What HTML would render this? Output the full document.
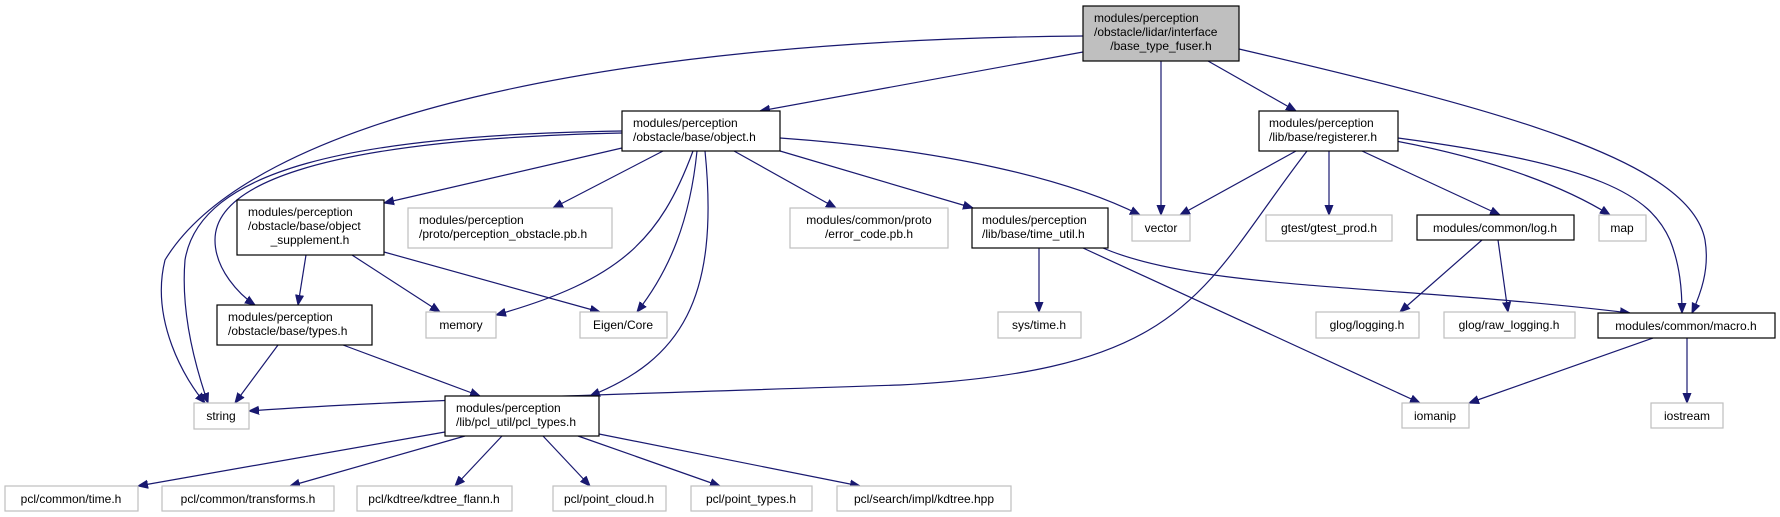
<!DOCTYPE html>
<html><head><meta charset="utf-8"><style>
html,body{margin:0;padding:0;background:#fff}
svg{display:block}
text{font-family:"Liberation Sans",sans-serif;font-size:12px;fill:#000}
.b{fill:#fff;stroke:#000;stroke-width:1.2}
.g{fill:#fff;stroke:#bfbfbf;stroke-width:1.2}
.e{fill:none;stroke:#191970;stroke-width:1.2}
</style></head><body>
<svg width="1780" height="517" viewBox="0 0 1780 517" xmlns="http://www.w3.org/2000/svg">
<defs><marker id="a" viewBox="0 0 10 10" refX="10" refY="5" markerWidth="10" markerHeight="10" markerUnits="userSpaceOnUse" orient="auto"><path d="M0,1 L10,5 L0,9 z" fill="#191970" stroke="#191970"/></marker></defs>
<g marker-end="url(#a)">
<path class="e" d="M1083,36 C600,40 250,120 165,260 C150,320 185,380 205,403"/>
<path class="e" d="M1083,52 L760,111"/>
<path class="e" d="M1161,61 L1161,215"/>
<path class="e" d="M1208,61 L1296,111"/>
<path class="e" d="M1239,49 C1500,110 1690,160 1705,240 C1710,270 1700,295 1692,313"/>
<path class="e" d="M622,131 C350,135 200,170 185,260 C180,320 200,380 208,403"/>
<path class="e" d="M622,133 C300,140 215,190 215,240 C215,270 240,295 255,305"/>
<path class="e" d="M622,148 L384,203"/>
<path class="e" d="M663,151 L553,208"/>
<path class="e" d="M693,151 C660,240 620,280 496,315"/>
<path class="e" d="M697,151 C690,220 670,270 637,312"/>
<path class="e" d="M705,151 C720,300 680,360 590,396"/>
<path class="e" d="M734,151 L836,208"/>
<path class="e" d="M780,151 L973,208"/>
<path class="e" d="M780,138 C950,150 1070,180 1140,215"/>
<path class="e" d="M306,255 L298,305"/>
<path class="e" d="M352,255 L440,312"/>
<path class="e" d="M384,252 L600,312"/>
<path class="e" d="M278,345 L235,403"/>
<path class="e" d="M343,345 L480,396"/>
<path class="e" d="M1296,151 L1180,215"/>
<path class="e" d="M1307,151 C1200,290 1190,370 900,385 C600,395 400,400 249,411"/>
<path class="e" d="M1329,151 L1329,215"/>
<path class="e" d="M1362,151 L1500,215"/>
<path class="e" d="M1390,140 C1500,160 1570,190 1610,215"/>
<path class="e" d="M1398,138 C1600,165 1650,195 1670,240 C1680,265 1682,290 1682,313"/>
<path class="e" d="M1039,248 L1039,312"/>
<path class="e" d="M1083,248 L1420,403"/>
<path class="e" d="M1103,248 C1200,290 1400,285 1630,313"/>
<path class="e" d="M1482,240 L1400,312"/>
<path class="e" d="M1498,240 L1508,312"/>
<path class="e" d="M1653,338 L1469,403"/>
<path class="e" d="M1687,338 L1687,403"/>
<path class="e" d="M445,432 L138,486"/>
<path class="e" d="M465,436 L290,486"/>
<path class="e" d="M502,436 L455,486"/>
<path class="e" d="M543,436 L590,486"/>
<path class="e" d="M578,436 L720,486"/>
<path class="e" d="M599,434 L860,486"/>
</g>
<rect x="1083" y="6" width="156" height="55" fill="#bfbfbf" stroke="#000" stroke-width="1.2"/>
<text x="1161" y="22" text-anchor="middle"><tspan x="1094" text-anchor="start">modules/perception</tspan><tspan x="1094" dy="14" text-anchor="start">/obstacle/lidar/interface</tspan><tspan x="1161" dy="14">/base_type_fuser.h</tspan></text>
<rect class="b" x="622" y="111" width="158" height="40"/>
<text><tspan x="633" y="127">modules/perception</tspan><tspan x="633" dy="14">/obstacle/base/object.h</tspan></text>
<rect class="b" x="1259" y="111" width="139" height="40"/>
<text><tspan x="1269" y="127">modules/perception</tspan><tspan x="1269" dy="14">/lib/base/registerer.h</tspan></text>
<rect class="g" x="1132" y="215" width="58" height="26"/><text x="1161" y="232" text-anchor="middle">vector</text>
<rect class="g" x="1266" y="215" width="126" height="26"/><text x="1329" y="232" text-anchor="middle">gtest/gtest_prod.h</text>
<rect class="b" x="1417" y="215" width="157" height="25"/><text x="1495" y="232" text-anchor="middle">modules/common/log.h</text>
<rect class="g" x="1599" y="215" width="47" height="26"/><text x="1622" y="232" text-anchor="middle">map</text>
<rect class="g" x="790" y="208" width="158" height="40"/>
<text text-anchor="middle"><tspan x="869" y="224">modules/common/proto</tspan><tspan x="869" dy="14">/error_code.pb.h</tspan></text>
<rect class="b" x="972" y="208" width="136" height="40"/>
<text><tspan x="982" y="224">modules/perception</tspan><tspan x="982" dy="14">/lib/base/time_util.h</tspan></text>
<rect class="g" x="408" y="208" width="204" height="40"/>
<text><tspan x="419" y="224">modules/perception</tspan><tspan x="419" dy="14">/proto/perception_obstacle.pb.h</tspan></text>
<rect class="b" x="237" y="200" width="147" height="55"/>
<text><tspan x="248" y="216">modules/perception</tspan><tspan x="248" dy="14">/obstacle/base/object</tspan><tspan x="310" dy="14" text-anchor="middle">_supplement.h</tspan></text>
<rect class="b" x="217" y="305" width="155" height="40"/>
<text><tspan x="228" y="321">modules/perception</tspan><tspan x="228" dy="14">/obstacle/base/types.h</tspan></text>
<rect class="g" x="426" y="312" width="70" height="26"/><text x="461" y="329" text-anchor="middle">memory</text>
<rect class="g" x="580" y="312" width="87" height="26"/><text x="623" y="329" text-anchor="middle">Eigen/Core</text>
<rect class="g" x="998" y="312" width="83" height="26"/><text x="1039" y="329" text-anchor="middle">sys/time.h</text>
<rect class="g" x="1316" y="312" width="103" height="26"/><text x="1367" y="329" text-anchor="middle">glog/logging.h</text>
<rect class="g" x="1444" y="312" width="131" height="26"/><text x="1509" y="329" text-anchor="middle">glog/raw_logging.h</text>
<rect class="b" x="1598" y="313" width="177" height="25"/><text x="1686" y="330" text-anchor="middle">modules/common/macro.h</text>
<rect class="g" x="1402" y="403" width="67" height="25"/><text x="1435" y="420" text-anchor="middle">iomanip</text>
<rect class="g" x="1651" y="403" width="72" height="25"/><text x="1687" y="420" text-anchor="middle">iostream</text>
<rect class="g" x="194" y="403" width="55" height="26"/><text x="221" y="420" text-anchor="middle">string</text>
<rect class="b" x="445" y="396" width="154" height="40"/>
<text><tspan x="456" y="412">modules/perception</tspan><tspan x="456" dy="14">/lib/pcl_util/pcl_types.h</tspan></text>
<rect class="g" x="5" y="486" width="133" height="25"/><text x="71" y="503" text-anchor="middle">pcl/common/time.h</text>
<rect class="g" x="162" y="486" width="172" height="25"/><text x="248" y="503" text-anchor="middle">pcl/common/transforms.h</text>
<rect class="g" x="357" y="486" width="155" height="25"/><text x="434" y="503" text-anchor="middle">pcl/kdtree/kdtree_flann.h</text>
<rect class="g" x="553" y="486" width="113" height="25"/><text x="609" y="503" text-anchor="middle">pcl/point_cloud.h</text>
<rect class="g" x="691" y="486" width="121" height="25"/><text x="751" y="503" text-anchor="middle">pcl/point_types.h</text>
<rect class="g" x="837" y="486" width="174" height="25"/><text x="924" y="503" text-anchor="middle">pcl/search/impl/kdtree.hpp</text>
</svg>
</body></html>
